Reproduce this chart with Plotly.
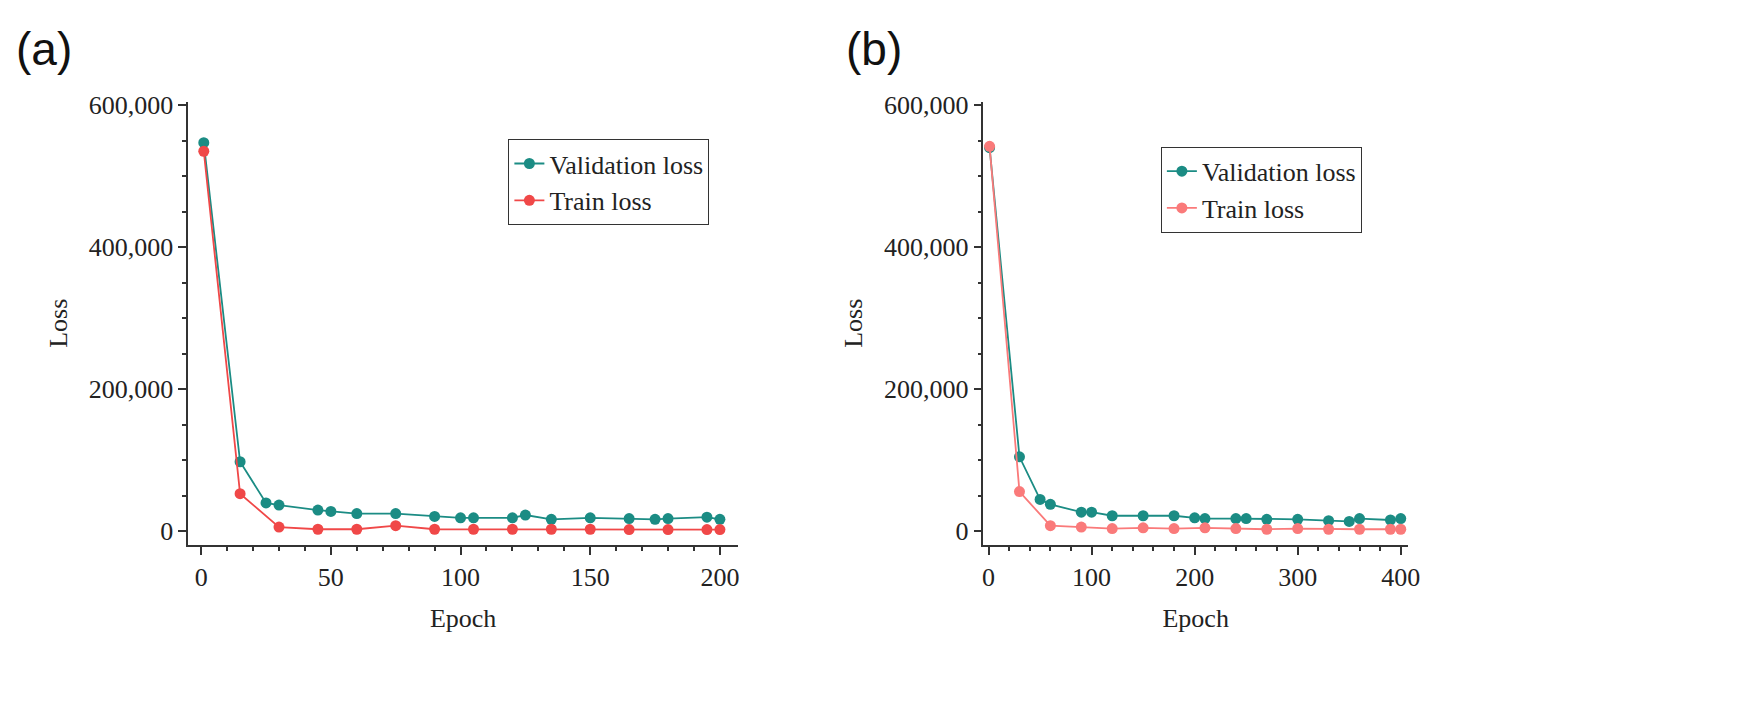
import plotly.graph_objects as go

a_val_x = [1, 15, 25, 30, 45, 50, 60, 75, 90, 100, 105, 120, 125, 135, 150, 165, 175, 180, 195, 200]
a_val_y = [547000, 98000, 40000, 37000, 30000, 28000, 25000, 25000, 21000, 19000, 19000, 19000, 23000, 17000, 19000, 18000, 17000, 18000, 20000, 17000]
a_tr_x = [1, 15, 30, 45, 60, 75, 90, 105, 120, 135, 150, 165, 180, 195, 200]
a_tr_y = [535000, 53000, 6000, 3000, 3000, 8000, 3000, 3000, 3000, 3000, 3000, 2500, 2500, 2500, 2500]

b_val_x = [1, 30, 50, 60, 90, 100, 120, 150, 180, 200, 210, 240, 250, 270, 300, 330, 350, 360, 390, 400]
b_val_y = [540000, 105000, 45000, 38000, 27000, 27000, 22000, 22000, 22000, 19000, 18000, 18000, 18000, 17000, 17000, 15000, 14000, 18000, 16000, 18000]
b_tr_x = [1, 30, 60, 90, 120, 150, 180, 210, 240, 270, 300, 330, 360, 390, 400]
b_tr_y = [542000, 56000, 8000, 6000, 4000, 5000, 4000, 5000, 4000, 3000, 4000, 3000, 3000, 3000, 3000]

TEAL = "#1b8c84"
RED_A = "#f04848"
RED_B = "#fa7a7a"

fig = go.Figure()
def add(x, y, name, color, xa, ya, lg):
    fig.add_trace(go.Scatter(x=x, y=y, name=name, mode="lines+markers",
                             line=dict(color=color, width=1.8),
                             marker=dict(color=color, size=11),
                             xaxis=xa, yaxis=ya, legend=lg))
add(a_val_x, a_val_y, "Validation loss", TEAL, "x", "y", "legend")
add(a_tr_x, a_tr_y, "Train loss", RED_A, "x", "y", "legend")
add(b_val_x, b_val_y, "Validation loss", TEAL, "x2", "y2", "legend2")
add(b_tr_x, b_tr_y, "Train loss", RED_B, "x2", "y2", "legend2")

font = dict(family="Liberation Serif", size=26, color="#222")
ax = dict(showgrid=False, zeroline=False, showline=True, linecolor="#333", linewidth=1.5,
          ticks="outside", ticklen=8, tickwidth=1.5, tickcolor="#333",
          tickfont=font, minor=dict(ticks="outside", ticklen=4, tickcolor="#333"))
yax = dict(ax, tickformat=",d", tickvals=[0, 200000, 400000, 600000], range=[-19000, 605000],
           title=dict(text="Loss", font=font, standoff=14))
fig.update_layout(
    width=1753, height=707, margin=dict(l=0, r=0, t=0, b=0),
    plot_bgcolor="white", paper_bgcolor="white", showlegend=True,
    xaxis=dict(ax, domain=[0.103, 0.419], range=[-5, 207], dtick=50, anchor="y",
               title=dict(text="Epoch", font=font, standoff=18)),
    yaxis=dict(yax, domain=[0.243, 0.88], anchor="x"),
    xaxis2=dict(ax, domain=[0.560, 0.804], range=[-5, 407], dtick=100, anchor="y2",
                title=dict(text="Epoch", font=font, standoff=18)),
    yaxis2=dict(yax, domain=[0.243, 0.88], anchor="x2"),
    legend=dict(x=0.287, y=0.826, xanchor="left", yanchor="top", bordercolor="#333", borderwidth=1,
                font=font, bgcolor="white", tracegroupgap=0),
    legend2=dict(x=0.662, y=0.815, xanchor="left", yanchor="top", bordercolor="#333", borderwidth=1,
                 font=font, bgcolor="white"),
    annotations=[
        dict(text="(a)", x=0.003, y=0.995, xref="paper", yref="paper", xanchor="left", yanchor="top",
             showarrow=False, font=dict(family="Liberation Sans", size=46, color="#111")),
        dict(text="(b)", x=0.48, y=0.995, xref="paper", yref="paper", xanchor="left", yanchor="top",
             showarrow=False, font=dict(family="Liberation Sans", size=46, color="#111")),
    ],
)
fig.write_html("out.html")
